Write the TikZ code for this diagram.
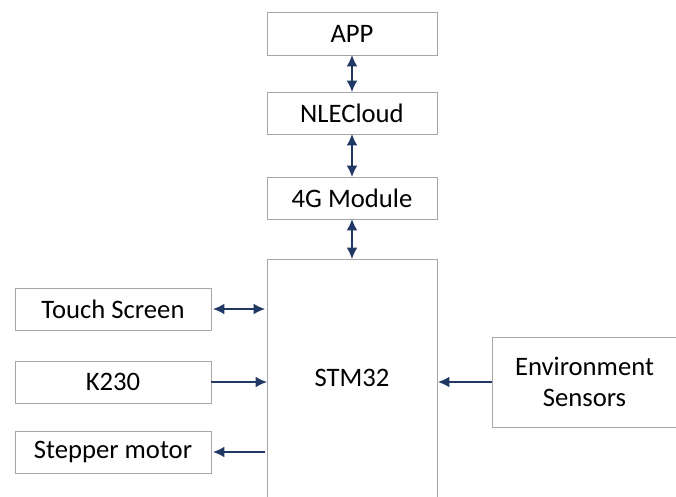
\documentclass[tikz,border=0pt]{standalone}
\usepackage{fontspec}
\setmainfont{Carlito}
\usetikzlibrary{arrows.meta}
\definecolor{navy}{HTML}{203864}
\definecolor{boxgray}{HTML}{A6A6A6}
\begin{document}
\begin{tikzpicture}[x=0.75pt,y=-0.75pt,
  blk/.style={draw=boxgray,line width=0.75pt,inner sep=0pt,outer sep=0pt,font=\fontsize{20}{23.5}\selectfont,align=center},
  link/.style={draw=navy,line width=1pt,-{Latex[length=8.5pt,width=8pt]}},
  blink/.style={draw=navy,line width=1pt,{Latex[length=8.5pt,width=8pt]}-{Latex[length=8.5pt,width=8pt]}}]
\useasboundingbox (0,0) rectangle (676,497);
\node[blk,minimum width=170*0.75pt,minimum height=43*0.75pt] (app) at (352,33.5) {APP};
\node[blk,minimum width=170*0.75pt,minimum height=42*0.75pt] (cloud) at (352,113) {NLECloud};
\node[blk,minimum width=170*0.75pt,minimum height=42*0.75pt] (g4) at (352,198) {4G Module};
\node[blk,minimum width=170*0.75pt,minimum height=238*0.75pt] (stm) at (352,378) {STM32};
\node[blk,minimum width=196*0.75pt,minimum height=42*0.75pt] (touch) at (113,309) {Touch Screen};
\node[blk,minimum width=196*0.75pt,minimum height=42*0.75pt] (k230) at (113,382) {K230};
\node[blk,minimum width=196*0.75pt,minimum height=42*0.75pt] (step) at (113,452) {Stepper motor};
\node[blk,minimum width=185*0.75pt,minimum height=90*0.75pt] (env) at (584.5,382) {Environment\\Sensors};
\draw[blink] (app.south) -- (cloud.north);
\draw[blink] (cloud.south) -- (g4.north);
\draw[blink] (g4.south) -- (stm.north);
\draw[blink] ([xshift=2*0.75pt]touch.east) -- ([xshift=-2*0.75pt]stm.west |- touch.east);
\draw[link] (k230.east) -- (stm.west |- k230.east);
\draw[link] ([xshift=-2*0.75pt]stm.west |- step.east) -- ([xshift=2*0.75pt]step.east);
\draw[link] (env.west) -- ([xshift=1*0.75pt]stm.east |- env.west);
\end{tikzpicture}
\end{document}
